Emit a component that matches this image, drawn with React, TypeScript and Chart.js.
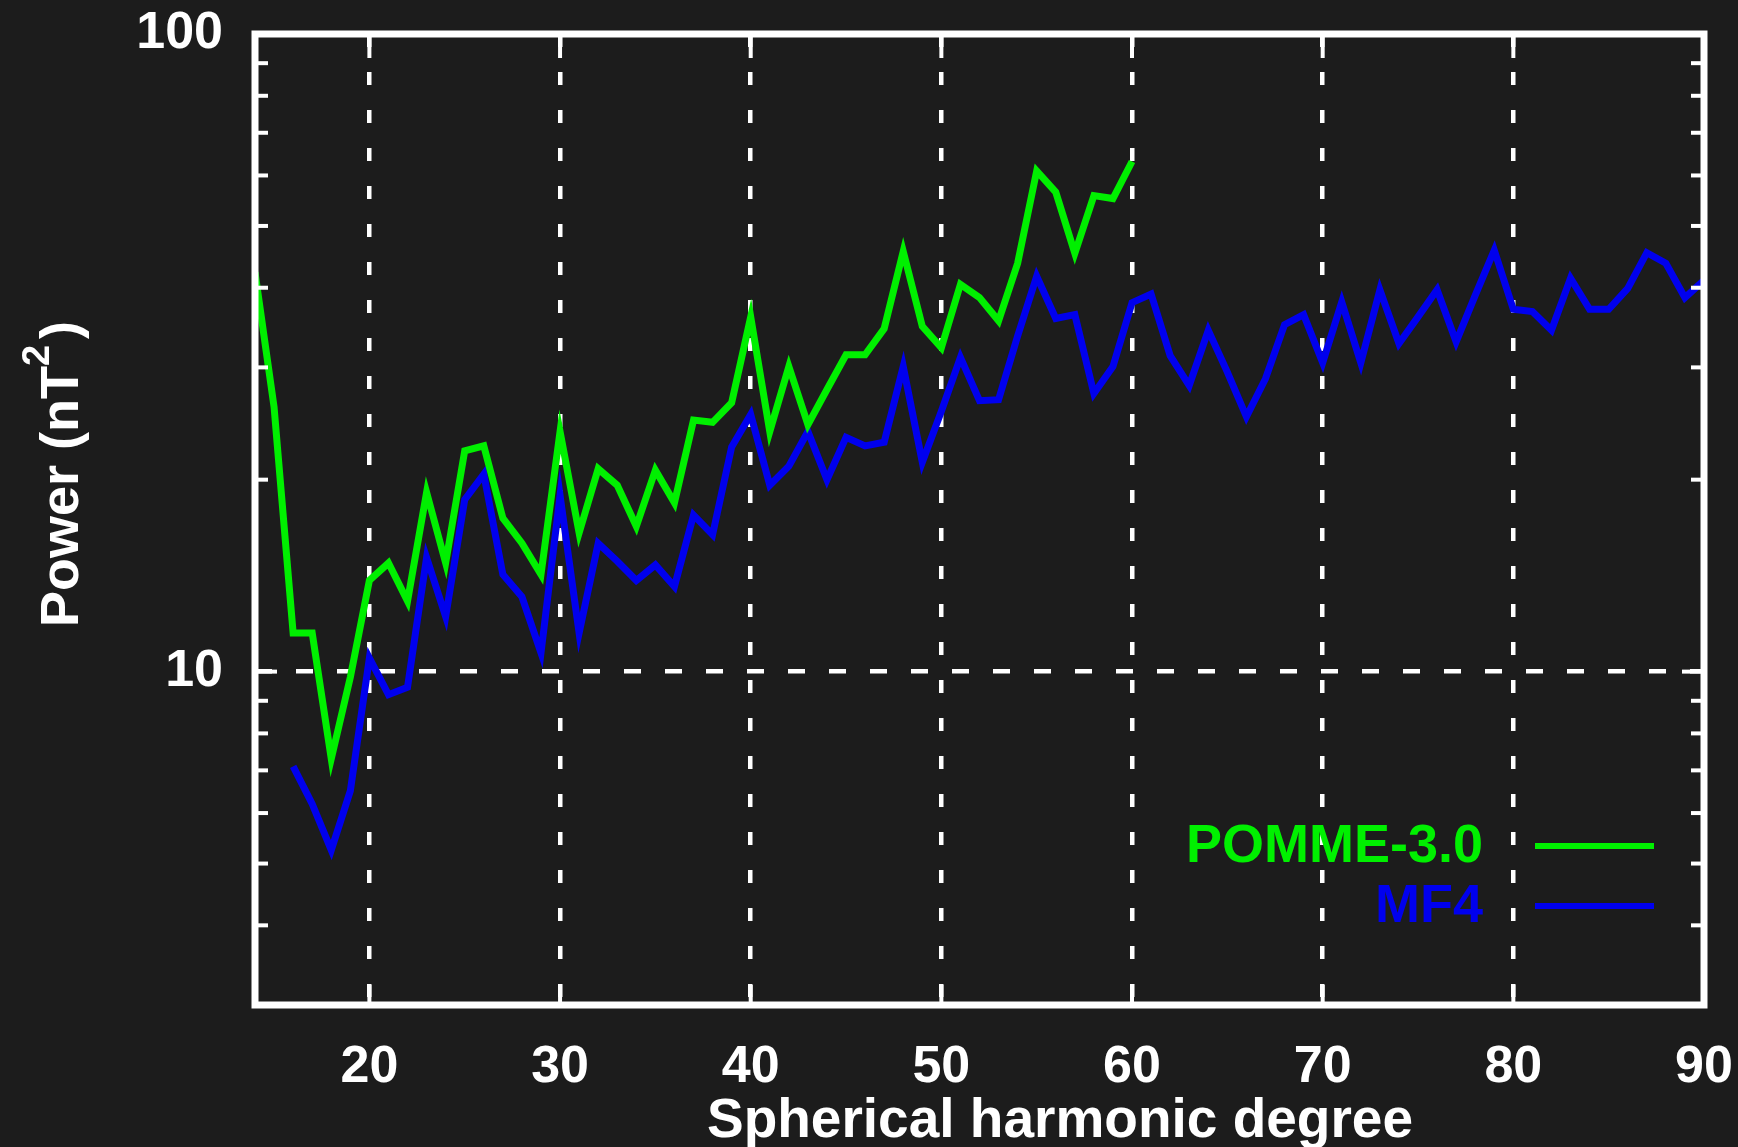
import { useEffect, useRef } from 'react';
import { Chart, registerables } from 'chart.js';

Chart.register(...registerables);

// ---- data ----
const POMME_NAME = 'POMME-3.0';
const POMME_START_DEGREE = 14;
const POMME_POWER = [
  42.3, 26.0, 11.5, 11.5, 7.3, 9.8, 13.9, 14.8, 12.9, 19.1,
  14.8, 22.2, 22.6, 17.4, 15.9, 14.2, 23.8, 16.5, 20.8, 19.6,
  16.9, 20.7, 18.4, 24.8, 24.6, 26.4, 36.0, 23.8, 30.1, 24.4,
  27.7, 31.4, 31.4, 34.5, 45.6, 34.8, 32.2, 40.5, 38.6, 35.5,
  43.7, 61.0, 56.5, 45.3, 55.8, 55.2, 63.1,
];

const MF4_NAME = 'MF4';
const MF4_START_DEGREE = 16;
const MF4_POWER = [
  7.1, 6.2, 5.25, 6.5, 10.5, 9.2, 9.45, 15.1, 12.2, 18.6,
  20.4, 14.2, 13.1, 10.7, 18.9, 11.5, 15.9, 14.9, 13.9, 14.7,
  13.6, 17.6, 16.4, 22.5, 25.3, 19.6, 21.0, 23.8, 20.0, 23.3,
  22.6, 22.9, 30.1, 21.3, 25.6, 31.1, 26.6, 26.7, 33.6, 41.7,
  35.8, 36.3, 27.3, 30.1, 37.9, 39.1, 31.3, 28.1, 34.3, 29.5,
  25.1, 28.8, 35.0, 36.3, 30.5, 38.0, 30.5, 39.7, 32.7, 36.0,
  39.7, 32.9, 38.9, 45.8, 37.0, 36.7, 34.3, 41.4, 37.0, 37.0,
  39.9, 45.4, 43.7, 38.6, 41.1,
];

const X_MIN = 14;
const X_MAX = 90;
const X_TICKS = [20, 30, 40, 50, 60, 70, 80, 90];
const Y_MIN = 3;
const Y_MAX = 100;
const Y_TICKS = [3, 4, 5, 6, 7, 8, 9, 10, 20, 30, 40, 50, 60, 70, 80, 90, 100];
const Y_LABELED = [10, 100];

const X_TITLE = 'Spherical harmonic degree';
const Y_TITLE_MAIN = 'Power (nT';
const Y_TITLE_SUP = '2';
const Y_TITLE_END = ')';

// ---- style ----
const BG = '#1c1c1c';
const WHITE = '#ffffff';
const GREEN = '#00f000';
const BLUE = '#0000ee';
const FONT = '"Liberation Sans", Arial, Helvetica, sans-serif';
const W = 1738;
const H = 1147;

const zeroPadding = (s: any) => {
  s.paddingTop = 0;
  s.paddingBottom = 0;
  s.paddingLeft = 0;
  s.paddingRight = 0;
};

const framePlugin = {
  id: 'frame',
  beforeDraw(chart: any) {
    const ctx = chart.ctx;
    ctx.save();
    ctx.fillStyle = BG;
    ctx.fillRect(0, 0, chart.width, chart.height);
    ctx.restore();
  },
  afterDatasetsDraw(chart: any) {
    const { ctx, chartArea: a, scales } = chart;
    ctx.save();
    ctx.strokeStyle = WHITE;
    ctx.setLineDash([]);
    ctx.lineWidth = 4;
    const seg = (x1: number, y1: number, x2: number, y2: number) => {
      ctx.beginPath();
      ctx.moveTo(x1, y1);
      ctx.lineTo(x2, y2);
      ctx.stroke();
    };
    // y tick marks (inward, both sides)
    for (const t of scales.y.ticks) {
      const v = t.value;
      if (v <= Y_MIN || v >= Y_MAX) continue;
      const py = scales.y.getPixelForValue(v);
      const len = Y_LABELED.includes(v) ? 22 : 13;
      seg(a.left, py, a.left + len, py);
      seg(a.right, py, a.right - len, py);
    }
    // x tick marks (inward, top and bottom)
    for (const t of scales.x.ticks) {
      const px = scales.x.getPixelForValue(t.value);
      if (px >= a.right - 2 || px <= a.left + 2) continue;
      seg(px, a.top, px, a.top + 24);
      seg(px, a.bottom, px, a.bottom - 20);
    }
    // frame
    ctx.lineWidth = 7;
    ctx.strokeRect(a.left, a.top, a.right - a.left, a.bottom - a.top);

    // legend
    const ds = chart.data.datasets;
    const legendRows = [
      { y: 846, ds: ds[0] },
      { y: 906, ds: ds[1] },
    ];
    ctx.font = `bold 54px ${FONT}`;
    ctx.textAlign = 'right';
    ctx.textBaseline = 'middle';
    for (const r of legendRows) {
      ctx.fillStyle = r.ds.borderColor;
      ctx.fillText(r.ds.label, 1483, r.y + 1);
      ctx.strokeStyle = r.ds.borderColor;
      ctx.lineWidth = 6;
      seg(1535, r.y, 1654, r.y);
    }

    // x-axis title (offset to the right like the original)
    ctx.fillStyle = WHITE;
    ctx.font = `bold 55px ${FONT}`;
    ctx.textAlign = 'center';
    ctx.textBaseline = 'middle';
    ctx.fillText(X_TITLE, 1060, 1122);

    // y-axis title with superscript
    ctx.translate(78, 474);
    ctx.rotate(-Math.PI / 2);
    ctx.textAlign = 'left';
    ctx.textBaseline = 'alphabetic';
    const mainFont = `bold 54px ${FONT}`;
    const supFont = `bold 38px ${FONT}`;
    ctx.font = mainFont;
    const w1 = ctx.measureText(Y_TITLE_MAIN).width;
    const w3 = ctx.measureText(Y_TITLE_END).width;
    ctx.font = supFont;
    const w2 = ctx.measureText(Y_TITLE_SUP).width;
    const total = w1 + w2 + 6 + w3;
    let x0 = -total / 2;
    ctx.font = mainFont;
    ctx.fillText(Y_TITLE_MAIN, x0, 0);
    x0 += w1;
    ctx.font = supFont;
    ctx.fillText(Y_TITLE_SUP, x0, -29);
    x0 += w2 + 6;
    ctx.font = mainFont;
    ctx.fillText(Y_TITLE_END, x0, 0);
    ctx.restore();
  },
};

export default function App() {
  const ref = useRef<HTMLCanvasElement | null>(null);

  useEffect(() => {
    document.body.style.margin = '0';
    document.body.style.background = BG;
    const canvas = ref.current;
    if (!canvas) return;

    const pommeData = POMME_POWER.map((v, i) => ({ x: POMME_START_DEGREE + i, y: v }));
    const mf4Data = MF4_POWER.map((v, i) => ({ x: MF4_START_DEGREE + i, y: v }));

    const chart = new Chart(canvas, {
      type: 'line',
      data: {
        datasets: [
          {
            label: POMME_NAME,
            data: pommeData,
            borderColor: GREEN,
            backgroundColor: GREEN,
            borderWidth: 7,
            pointRadius: 0,
            tension: 0,
            fill: false,
          },
          {
            label: MF4_NAME,
            data: mf4Data,
            borderColor: BLUE,
            backgroundColor: BLUE,
            borderWidth: 7,
            pointRadius: 0,
            tension: 0,
            fill: false,
          },
        ],
      },
      options: {
        animation: false,
        responsive: false,
        devicePixelRatio: 1,
        layout: { padding: { top: 34, right: 34, bottom: 0, left: 0 } },
        plugins: {
          legend: { display: false },
          tooltip: { enabled: false },
        },
        scales: {
          x: {
            type: 'linear',
            min: X_MIN,
            max: X_MAX,
            afterBuildTicks: (s: any) => {
              s.ticks = X_TICKS.map((v) => ({ value: v }));
            },
            afterFit: (s: any) => {
              s.height = 142;
              zeroPadding(s);
            },
            grid: {
              color: (c: any) => (c.tick && c.tick.value < X_MAX ? WHITE : 'rgba(0,0,0,0)'),
              lineWidth: 4.5,
              drawTicks: false,
            },
            border: { display: false, dash: [13, 25] },
            ticks: {
              color: WHITE,
              font: { family: FONT, size: 52, weight: 'bold' },
              padding: 31,
              maxRotation: 0,
              autoSkip: false,
              callback: (v: any) => String(v),
            },
            title: { display: false },
          },
          y: {
            type: 'logarithmic',
            min: Y_MIN,
            max: Y_MAX,
            afterBuildTicks: (s: any) => {
              s.ticks = Y_TICKS.map((v) => ({ value: v }));
            },
            afterFit: (s: any) => {
              s.width = 255;
              zeroPadding(s);
            },
            grid: {
              color: (c: any) => (c.tick && c.tick.value === 10 ? WHITE : 'rgba(0,0,0,0)'),
              lineWidth: 4.5,
              drawTicks: false,
            },
            border: { display: false, dash: [17, 24] },
            ticks: {
              color: WHITE,
              font: { family: FONT, size: 52, weight: 'bold' },
              padding: 32,
              autoSkip: false,
              callback: (v: any) => (Y_LABELED.includes(Number(v)) ? String(v) : ''),
            },
          },
        },
      } as any,
      plugins: [framePlugin],
    });

    return () => chart.destroy();
  }, []);

  return (
    <div style={{ width: W, height: H, background: BG }}>
      <canvas ref={ref} width={W} height={H} style={{ display: 'block', width: W, height: H }} />
    </div>
  );
}
